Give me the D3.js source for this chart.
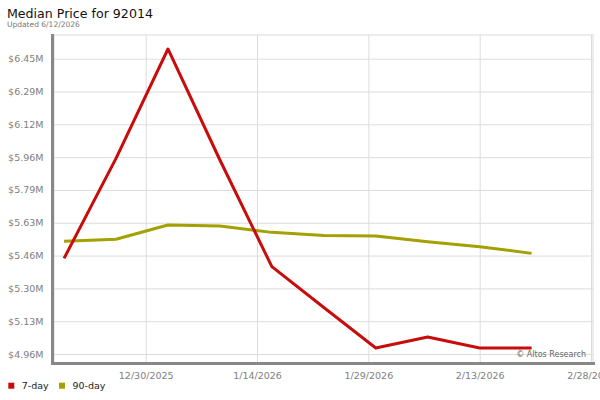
<!DOCTYPE html>
<html>
<head>
<meta charset="utf-8">
<script src="https://cdn.jsdelivr.net/npm/d3@7"></script>
<style>
  html, body { margin: 0; padding: 0; background: #fff; }
  svg { display: block; font-family: "DejaVu Sans", Verdana, sans-serif; }
</style>
</head>
<body>
<svg id="chart" width="600" height="400"></svg>
<script>
// ---- data ----
const titleText = "Median Price for 92014";
const subtitleText = "Updated 6/12/2026";
const creditText = "\u00A9 Altos Research";
const dates = ["2025-12-19","2025-12-26","2026-01-02","2026-01-09","2026-01-16","2026-01-23","2026-01-30","2026-02-06","2026-02-13","2026-02-20"];
const sevenDay = [5.447, 5.951, 6.503, 5.943, 5.405, 5.199, 4.995, 5.050, 4.995, 4.995];
const ninetyDay = [5.533, 5.543, 5.615, 5.610, 5.578, 5.562, 5.560, 5.531, 5.506, 5.472];
const seriesNames = ["7-day", "90-day"];
const seriesColors = ["#c80c0c", "#a3a000"];
const yTickValues = [4.9645, 5.13, 5.2955, 5.461, 5.6265, 5.792, 5.9575, 6.123, 6.2885, 6.454];
const xTickDates = ["2025-12-30","2026-01-14","2026-01-29","2026-02-13","2026-02-28"];
const xTickLabels = ["12/30/2025","1/14/2026","1/29/2026","2/13/2026","2/28/2026"];

// ---- layout ----
const parse = d3.utcParse("%Y-%m-%d");
const plot = { left: 54, right: 593, top: 35, bottom: 363 };

const x = d3.scaleUtc()
  .domain([parse("2025-12-30"), parse("2026-02-28")])
  .range([145.7, 591]);
const y = d3.scaleLinear()
  .domain([4.9645, 6.454])
  .range([354, 58.7]);

const svg = d3.select("#chart");

// titles
svg.append("text").attr("x", 7).attr("y", 18)
  .attr("font-size", 12.6).attr("fill", "#111").text(titleText);
svg.append("text").attr("x", 7).attr("y", 26.5)
  .attr("font-size", 7.5).attr("fill", "#777").text(subtitleText);

// plot frame
svg.append("rect")
  .attr("x", plot.left).attr("y", plot.top)
  .attr("width", plot.right - plot.left).attr("height", plot.bottom - plot.top)
  .attr("fill", "#fff").attr("stroke", "#dcdcdc").attr("stroke-width", 1);

// y grid + labels
const yAxis = d3.axisLeft(y)
  .tickValues(yTickValues)
  .tickSize(-(plot.right - plot.left))
  .tickPadding(10)
  .tickFormat(d => "$" + d3.format(".2f")(d) + "M");
const gy = svg.append("g").attr("transform", `translate(${plot.left},0)`).call(yAxis);
gy.select(".domain").remove();
gy.selectAll(".tick line").attr("stroke", "#dcdcdc").attr("stroke-width", 1);
gy.selectAll(".tick text")
  .attr("x", -10.5)
  .attr("font-size", 9.5).attr("fill", "#808080")
  .attr("font-family", "DejaVu Sans, sans-serif");

// x grid + labels
const xAxis = d3.axisBottom(x)
  .tickValues(xTickDates.map(parse))
  .tickSize(-(plot.bottom - plot.top))
  .tickPadding(9)
  .tickFormat((d, i) => xTickLabels[i]);
const gx = svg.append("g").attr("transform", `translate(0,${plot.bottom})`).call(xAxis);
gx.select(".domain").remove();
gx.selectAll(".tick line").attr("stroke", "#dcdcdc").attr("stroke-width", 1);
gx.selectAll(".tick text")
  .attr("font-size", 9.5).attr("fill", "#808080")
  .attr("font-family", "DejaVu Sans, sans-serif");

// axis lines (thick gray)
svg.append("line").attr("x1", 52.5).attr("x2", 52.5).attr("y1", 34).attr("y2", 365)
  .attr("stroke", "#888").attr("stroke-width", 3);
svg.append("line").attr("x1", 51).attr("x2", 595).attr("y1", 363.5).attr("y2", 363.5)
  .attr("stroke", "#888").attr("stroke-width", 3);

// credit
svg.append("text").attr("x", 586).attr("y", 357)
  .attr("text-anchor", "end").attr("font-size", 8).attr("fill", "#666")
  .text(creditText);

// series lines
const series = [sevenDay, ninetyDay];
const line = d3.line()
  .x((d, i) => x(parse(dates[i])))
  .y(d => y(d));
// draw 90-day first then 7-day on top
[1, 0].forEach(k => {
  svg.append("path")
    .datum(series[k])
    .attr("d", line)
    .attr("fill", "none")
    .attr("stroke", seriesColors[k])
    .attr("stroke-width", 3)
    .attr("stroke-linejoin", "round");
});

// legend
const legendX = [8.3, 59];
seriesNames.forEach((name, k) => {
  svg.append("rect").attr("x", legendX[k]).attr("y", 382.7)
    .attr("width", 6).attr("height", 6).attr("fill", seriesColors[k]);
  svg.append("text").attr("x", legendX[k] + 13.5).attr("y", 388.7)
    .attr("font-size", 9.5).attr("fill", "#222").text(name);
});
</script>
</body>
</html>
